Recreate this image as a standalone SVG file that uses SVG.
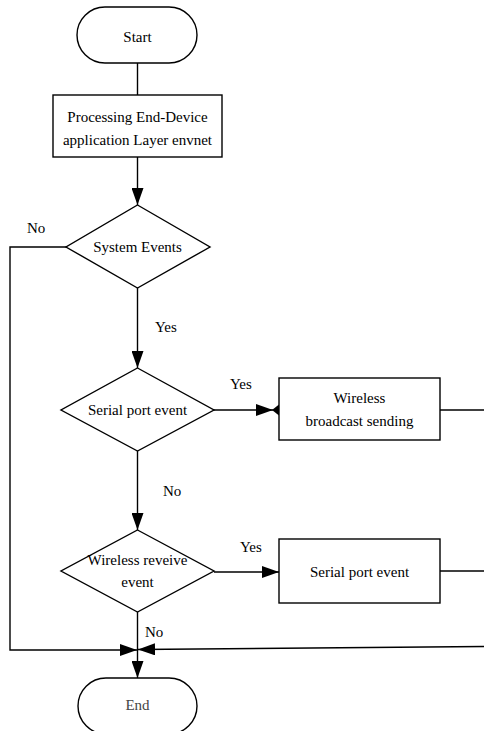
<svg xmlns="http://www.w3.org/2000/svg" width="484" height="731" viewBox="0 0 484 731">
<style>
.s{fill:#fff;stroke:#000;stroke-width:1.4}
.c{fill:none;stroke:#000;stroke-width:1.4}
.t{font-family:"Liberation Serif","Times New Roman",serif;font-size:15px;fill:#000;text-anchor:middle}
.l{font-family:"Liberation Serif","Times New Roman",serif;font-size:15px;fill:#000}
</style>
<defs>
<marker id="a" markerUnits="userSpaceOnUse" markerWidth="17" markerHeight="12" refX="17" refY="6" orient="auto">
<path d="M0,0 L17,6 L0,12 z" fill="#000"/>
</marker>
</defs>
<g id="connectors">
<path class="c" d="M137.5,63 V95"/>
<path class="c" d="M137.5,157 V205" marker-end="url(#a)"/>
<path class="c" d="M137.5,288 V368" marker-end="url(#a)"/>
<path class="c" d="M214,410 H273" marker-end="url(#a)"/>
<path d="M279,404.5 L272,410 L279,415.5 z" fill="#000"/>
<path class="c" d="M137.5,451 V530" marker-end="url(#a)"/>
<path class="c" d="M214,572 H279" marker-end="url(#a)"/>
<path class="c" d="M137.5,612 V678" marker-end="url(#a)"/>
<path class="c" d="M66,247 H10 V650 H137" marker-end="url(#a)"/>
<path class="c" d="M440,410 H484"/>
<path class="c" d="M440,571 H484"/>
<path class="c" d="M484,646.5 L138,649.5" marker-end="url(#a)"/>
</g>
<g id="start">
<rect class="s" x="77" y="7" width="120" height="56" rx="28"/>
<text class="t" x="137.5" y="42">Start</text>
</g>
<g id="process">
<rect class="s" x="53" y="95" width="169" height="62"/>
<text class="t" x="137.5" y="122">Processing End-Device</text>
<text class="t" x="137.5" y="145">application Layer envnet</text>
</g>
<g id="system-events">
<polygon class="s" points="137.5,205 210,247 137.5,288 66,247"/>
<text class="t" x="137.5" y="252">System Events</text>
</g>
<g id="serial-decision">
<polygon class="s" points="137.5,368 214,410 137.5,451 61,410"/>
<text class="t" x="137.5" y="415">Serial port event</text>
</g>
<g id="wireless-send">
<rect class="s" x="279" y="378" width="161" height="62"/>
<text class="t" x="359.5" y="403">Wireless</text>
<text class="t" x="359.5" y="426">broadcast sending</text>
</g>
<g id="wireless-decision">
<polygon class="s" points="137.5,530 214,571 137.5,612 61,571"/>
<text class="t" x="137.5" y="565">Wireless reveive</text>
<text class="t" x="137.5" y="587">event</text>
</g>
<g id="serial-box">
<rect class="s" x="279" y="539" width="161" height="64"/>
<text class="t" x="359.5" y="577">Serial port event</text>
</g>
<g id="end">
<rect class="s" x="78" y="678" width="119" height="56" rx="28"/>
<text class="t" x="137.5" y="710" style="fill:#444">End</text>
</g>
<g id="labels">
<text class="l" x="27" y="233">No</text>
<text class="l" x="155" y="332">Yes</text>
<text class="l" x="230" y="389">Yes</text>
<text class="l" x="163" y="496">No</text>
<text class="l" x="240" y="552">Yes</text>
<text class="l" x="145" y="637">No</text>
</g>
</svg>
